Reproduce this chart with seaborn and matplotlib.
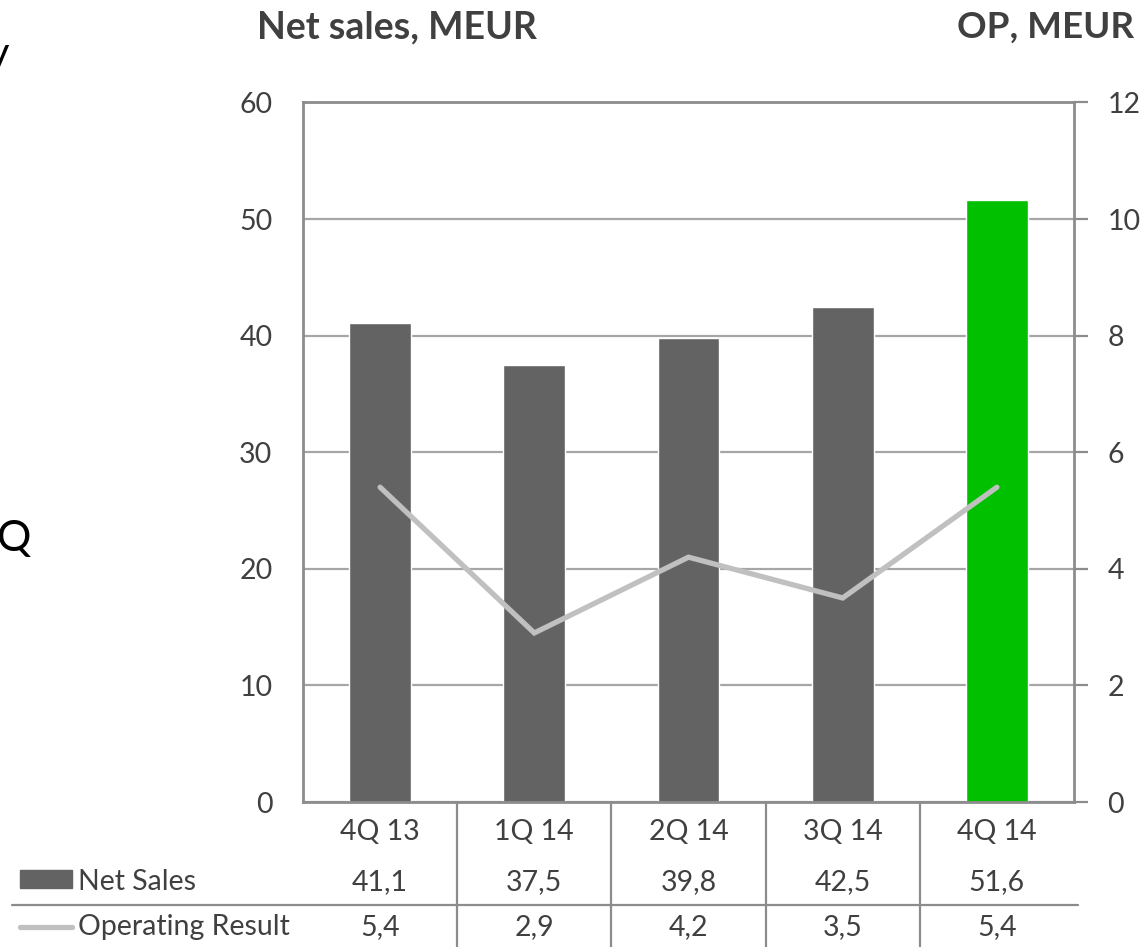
import numpy as np
import pandas as pd
import matplotlib
matplotlib.use("Agg")
import matplotlib.pyplot as plt
import matplotlib.transforms as mtransforms
from matplotlib.patches import Rectangle
from matplotlib.lines import Line2D
import seaborn as sns

# Quarterly figures
quarters = ["4Q 13", "1Q 14", "2Q 14", "3Q 14", "4Q 14"]
net_sales = [41.1, 37.5, 39.8, 42.5, 51.6]
operating_result = [5.4, 2.9, 4.2, 3.5, 5.4]
bar_colors = ["#636363", "#636363", "#636363", "#636363", "#00c000"]
left_ticks = [0, 10, 20, 30, 40, 50, 60]
right_ticks = [0, 2, 4, 6, 8, 10, 12]

sns.set_theme(style="white")
plt.rcParams["font.family"] = ["Lato", "DejaVu Sans"]

TEXT = "#404040"
AXIS = "#8c8c8c"
GRID = "#a6a6a6"
LINE = "#c0c0c0"

W, H = 1148, 947
fig = plt.figure(figsize=(W / 100, H / 100), dpi=100)


def fx(px):
    return px / W


def fy(py):
    return 1 - py / H


left, right, top, bottom = 303, 1074, 102.5, 802
ax = fig.add_axes([fx(left), fy(bottom), fx(right - left), (bottom - top) / H])

df = pd.DataFrame({"quarter": quarters, "sales": net_sales})
sns.barplot(data=df, x="quarter", y="sales", hue="quarter", palette=bar_colors,
            width=0.4, saturation=1, legend=False, ax=ax, zorder=2)
ax.set_xlim(-0.5, len(quarters) - 0.5)
ax.set_ylim(0, 60)
ax.set_yticks(left_ticks)
ax.set_yticklabels([str(t) for t in left_ticks])
ax.set_xlabel("")
ax.set_ylabel("")
ax.yaxis.grid(True, color=GRID, linewidth=1.6, zorder=0)
ax.set_axisbelow(True)
ax.tick_params(axis="y", length=0, pad=22, labelsize=20.5, labelcolor=TEXT)
ax.tick_params(axis="x", length=0, pad=12, labelsize=20.5, labelcolor=TEXT)
for s in ax.spines.values():
    s.set_color(AXIS)
    s.set_linewidth(2)

ax2 = ax.twinx()
sns.lineplot(x=np.arange(len(quarters)), y=operating_result, ax=ax2, color=LINE,
             linewidth=3.8, solid_capstyle="round", solid_joinstyle="miter")
ax2.set_ylim(0, 12)
ax2.set_yticks(right_ticks)
ax2.set_yticklabels([str(t) for t in right_ticks])
ax2.tick_params(axis="y", length=10, width=1.6, color=AXIS, pad=14,
                labelsize=20.5, labelcolor=TEXT)
for s in ax2.spines.values():
    s.set_visible(False)

# Headings
fig.text(fx(397), fy(27), "Net sales, MEUR", ha="center", va="center",
         fontsize=27, fontweight="bold", color=TEXT)
fig.text(fx(1046), fy(27), "OP, MEUR", ha="center", va="center",
         fontsize=26.5, fontweight="bold", color=TEXT)

# Data table below the plot
trans = mtransforms.blended_transform_factory(ax.transData, fig.transFigure)
fmt = lambda v: f"{v:.1f}".replace(".", ",")
for i, (s, o) in enumerate(zip(net_sales, operating_result)):
    ax.text(i, fy(882), fmt(s), transform=trans, ha="center", va="center",
            fontsize=20.5, color=TEXT, clip_on=False)
    ax.text(i, fy(927), fmt(o), transform=trans, ha="center", va="center",
            fontsize=20.5, color=TEXT, clip_on=False)
for i in range(len(quarters) - 1):
    ax.add_line(Line2D([i + 0.5, i + 0.5], [fy(bottom), 0], transform=trans,
                       color=AXIS, linewidth=1.6, clip_on=False))
fig.add_artist(Line2D([fx(12), fx(1078)], [fy(905), fy(905)], color=AXIS, linewidth=1.6))

# Row legend keys
fig.add_artist(Rectangle((fx(20), fy(888)), fx(52), 18 / H, color="#636363"))
fig.add_artist(Line2D([fx(20), fx(72)], [fy(927), fy(927)], color=LINE,
                      linewidth=3.8, solid_capstyle="round"))
fig.text(fx(78), fy(882), "Net Sales", ha="left", va="center", fontsize=20.5, color=TEXT)
fig.text(fx(78), fy(927), "Operating Result", ha="left", va="center", fontsize=20.5, color=TEXT)

# Fragments of neighbouring slide text at the left edge
fig.text(fx(9), fy(67), "y", ha="right", va="baseline", fontsize=30, color="black")
fig.text(fx(-3), fy(551), "Q", ha="left", va="baseline", fontsize=31, color="black")

fig.savefig("out.png", dpi=100)
